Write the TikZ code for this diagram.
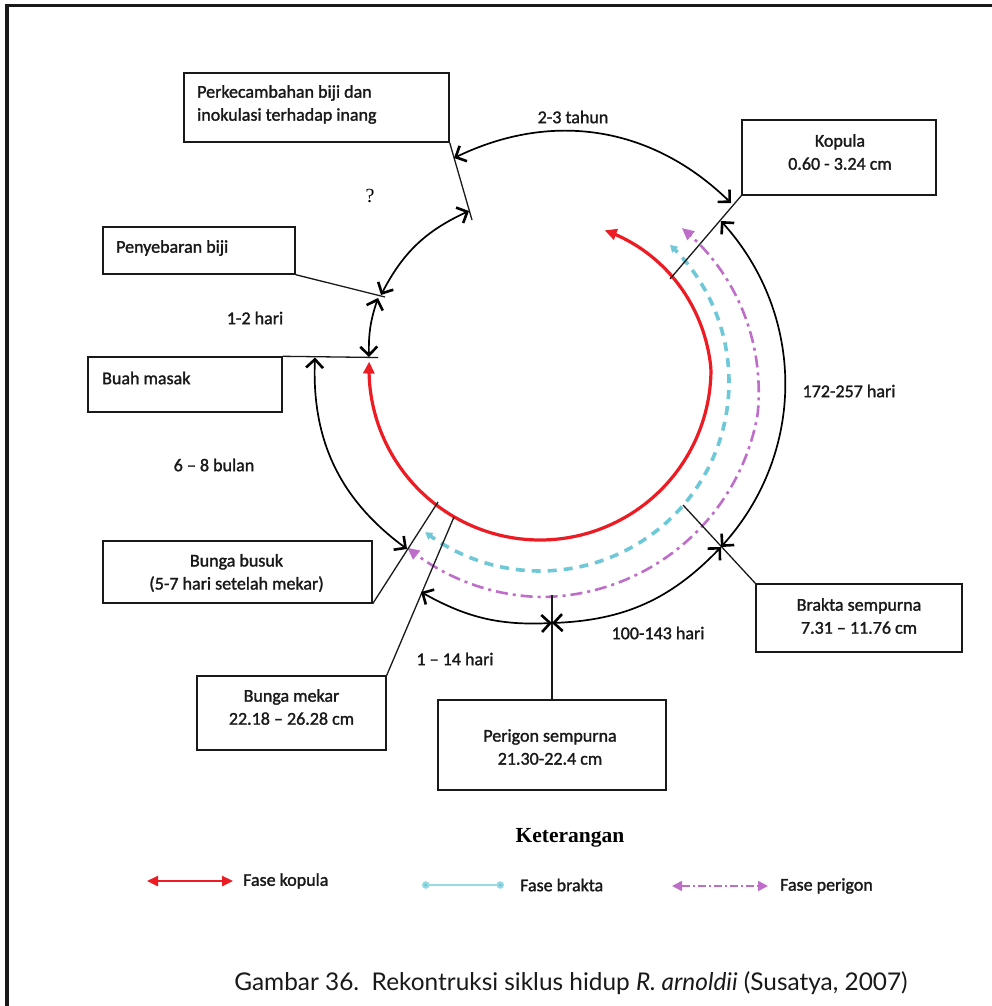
\documentclass[tikz,border=0pt]{standalone}
\usepackage{fontspec}
\setmainfont{Carlito}
\newfontfamily\lblfont{Carlito}[FakeBold=1.5]
\newfontfamily\capfont{Lato}
\newfontfamily\seriffont{Liberation Serif}
\usetikzlibrary{arrows.meta}
\definecolor{kred}{RGB}{237,28,36}
\definecolor{kcyan}{RGB}{110,200,215}
\definecolor{kmag}{RGB}{190,110,200}
\definecolor{kline}{RGB}{25,25,25}
\begin{document}
\begin{tikzpicture}[x=1pt,y=-1pt,
  box/.style={draw=kline, line width=1.4pt, inner sep=0pt},
  lbl/.style={font=\lblfont\fontsize{18}{23}\selectfont, inner sep=0pt, text=kline},
  conn/.style={draw=kline, line width=1.3pt},
  cyc/.style={draw=black, line width=1.7pt,
    {Straight Barb[length=8.5pt,width=17pt,line width=2.6pt]}-{Straight Barb[length=8.5pt,width=17pt,line width=2.6pt]}},
  redph/.style={draw=kred, line width=3.2pt,
    {Triangle[length=12pt,width=11pt]}-{Triangle[length=12pt,width=11pt]}},
  cyanph/.style={draw=kcyan, line width=3.6pt, dash pattern=on 9pt off 7pt,
    {Triangle[length=7pt,width=8pt]}-{Triangle[length=7pt,width=8pt]}},
  magph/.style={draw=kmag, line width=2.6pt, dash pattern=on 12pt off 5pt on 3pt off 5pt,
    {Triangle[length=12pt,width=11pt]}-{Triangle[length=12pt,width=11pt]}},
]
\useasboundingbox (0,0) rectangle (992,1006);
\fill[white] (0,0) rectangle (992,1006);
% frame
\draw[line width=3.5pt, kline] (7,1010) -- (7,5.5) -- (996,5.5);

% boxes
\node[box, minimum width=265pt, minimum height=69pt] (perk) at (316.5,107.5) {};
\node[box, minimum width=194pt, minimum height=75pt] (kop) at (839,157.5) {};
\node[box, minimum width=192pt, minimum height=47pt] (peny) at (199,250.5) {};
\node[box, minimum width=194pt, minimum height=55pt] (buah) at (185,384.5) {};
\node[box, minimum width=269pt, minimum height=62pt] (busuk) at (237.5,572) {};
\node[box, minimum width=189pt, minimum height=74pt] (mekar) at (291.5,713) {};
\node[box, minimum width=228pt, minimum height=90pt] (perigon) at (552,745) {};
\node[box, minimum width=206pt, minimum height=68pt] (brakta) at (859,618) {};

% box texts
\node[lbl, anchor=west, align=left] (perkT) at (197,104.5) {Perkecambahan biji dan\\inokulasi terhadap inang};
\node[lbl, align=center] (kopT) at (840,152) {Kopula\\0.60 - 3.24 cm};
\node[lbl, anchor=west] (penyT) at (116,248) {Penyebaran biji};
\node[lbl, anchor=west] (buahT) at (102,378) {Buah masak};
\node[lbl, align=center] (busukT) at (236.5,573) {Bunga busuk\\(5-7 hari setelah mekar)};
\node[lbl, align=center] (mekarT) at (291.5,707) {Bunga mekar\\22.18 – 26.28 cm};
\node[lbl, align=center] (perigonT) at (550,747) {Perigon sempurna\\21.30-22.4 cm};
\node[lbl, align=center] (braktaT) at (859,616) {Brakta sempurna\\7.31 – 11.76 cm};

% coordinates at the cycle
\coordinate (pk1) at (472,220);
\coordinate (kp1) at (670,279);
\coordinate (py1) at (385,297);
\coordinate (bm1) at (378,357.5);
\coordinate (bs1) at (438,502);
\coordinate (mk1) at (454,517);
\coordinate (pg1) at (552,595);
\coordinate (bk1) at (683,505);

\coordinate (a1s) at (454,158);
\coordinate (a1e) at (731,203);
\coordinate (a2s) at (381,295);
\coordinate (a2e) at (469,211);
\coordinate (a3s) at (378,298);
\coordinate (a3e) at (369,357);
\coordinate (a4s) at (315,357.5);
\coordinate (a4e) at (407,549);
\coordinate (a5s) at (421,592);
\coordinate (x1) at (552,623);
\coordinate (x2) at (721,547);
\coordinate (a7e) at (721,221);

% phase arcs
\draw[magph] plot[domain=-127.7:46.2, samples=120, variable=\t]
  ({540+(221-max(0,\t+10)*16/56.2-max(0,-\t-90)*4/37.7)*cos(\t)},
   {376-(221-max(0,\t+10)*16/56.2-max(0,-\t-90)*4/37.7)*sin(\t)});
\draw[cyanph] plot[domain=-127.4:46.5, samples=120, variable=\t]
  ({540+189*cos(\t)}, {382-189*sin(\t)});
\draw[redph] plot[domain=-182.5:65, samples=140, variable=\t]
  ({540+(171-max(0,\t)*18/65)*cos(\t)}, {369-(171-max(0,\t)*18/65)*sin(\t)});

% connectors from boxes
\draw[conn] (perk.south east) -- (pk1);
\draw[conn] (kop.south west) -- (kp1);
\draw[conn] (peny.south east) -- (py1);
\draw[conn] (buah.north east) -- (bm1);
\draw[conn] (busuk.south east) -- (bs1);
\draw[conn] (mekar.north east) -- (mk1);
\draw[conn] (perigon.north) -- (pg1);
\draw[conn] (brakta.north west) -- (bk1);

% cycle arcs
\draw[cyc] (a1s) to[bend left=35] (a1e);
\draw[cyc] (a2s) to[bend left=19] (a2e);
\draw[cyc] (a3s) to[bend right=10] (a3e);
\draw[cyc] (a4s) to[bend right=28] (a4e);
\draw[cyc] (a5s) to[bend right=16] (x1);
\draw[cyc] (x1) to[bend right=22] (x2);
\draw[cyc] (x2) to[bend right=42] (a7e);

% labels
\node[lbl] (l23) at (573,117) {2-3 tahun};
\node[font=\seriffont\fontsize{20}{22}\selectfont, inner sep=0pt] (q) at (370,196) {?};
\node[lbl] (l12) at (255,318) {1-2 hari};
\node[lbl] (l68) at (214,465) {6 – 8 bulan};
\node[lbl] (l172) at (849,391) {172-257 hari};
\node[lbl] (l100) at (658,633) {100-143 hari};
\node[lbl] (l114) at (455,659) {1 – 14 hari};

% legend
\node[font=\seriffont\bfseries\fontsize{21.5}{25}\selectfont, inner sep=0pt] (ket) at (570,838) {Keterangan};
\coordinate (lr1) at (147,881);
\coordinate (lr2) at (233,881);
\draw[draw=kred, line width=2.4pt, {Triangle[length=11pt,width=10pt]}-{Triangle[length=11pt,width=10pt]}] (lr1) -- (lr2);
\node[lbl, anchor=west] (lrT) at (243,881) {Fase kopula};
\coordinate (lc1) at (422,885);
\coordinate (lc2) at (504,885);
\draw[draw=kcyan!70, line width=2pt, {Circle[length=7.5pt,fill=kcyan]}-{Circle[length=7.5pt,fill=kcyan]}] (lc1) -- (lc2);
\node[lbl, anchor=west] (lcT) at (520,885) {Fase brakta};
\coordinate (lm1) at (672,886);
\coordinate (lm2) at (768,886);
\draw[draw=kmag, line width=1.6pt, dash pattern=on 8pt off 3pt on 2pt off 3pt, {Triangle[length=10pt,width=10pt]}-{Triangle[length=10pt,width=10pt]}] (lm1) -- (lm2);
\node[lbl, anchor=west] (lmT) at (780,886) {Fase perigon};

% caption
\node[font=\capfont\fontsize{24.4}{29}\selectfont, inner sep=0pt, text=kline] (cap) at (571,983) {Gambar 36.\ \ Rekontruksi siklus hidup \textit{R. arnoldii} (Susatya, 2007)};
\end{tikzpicture}
\end{document}
